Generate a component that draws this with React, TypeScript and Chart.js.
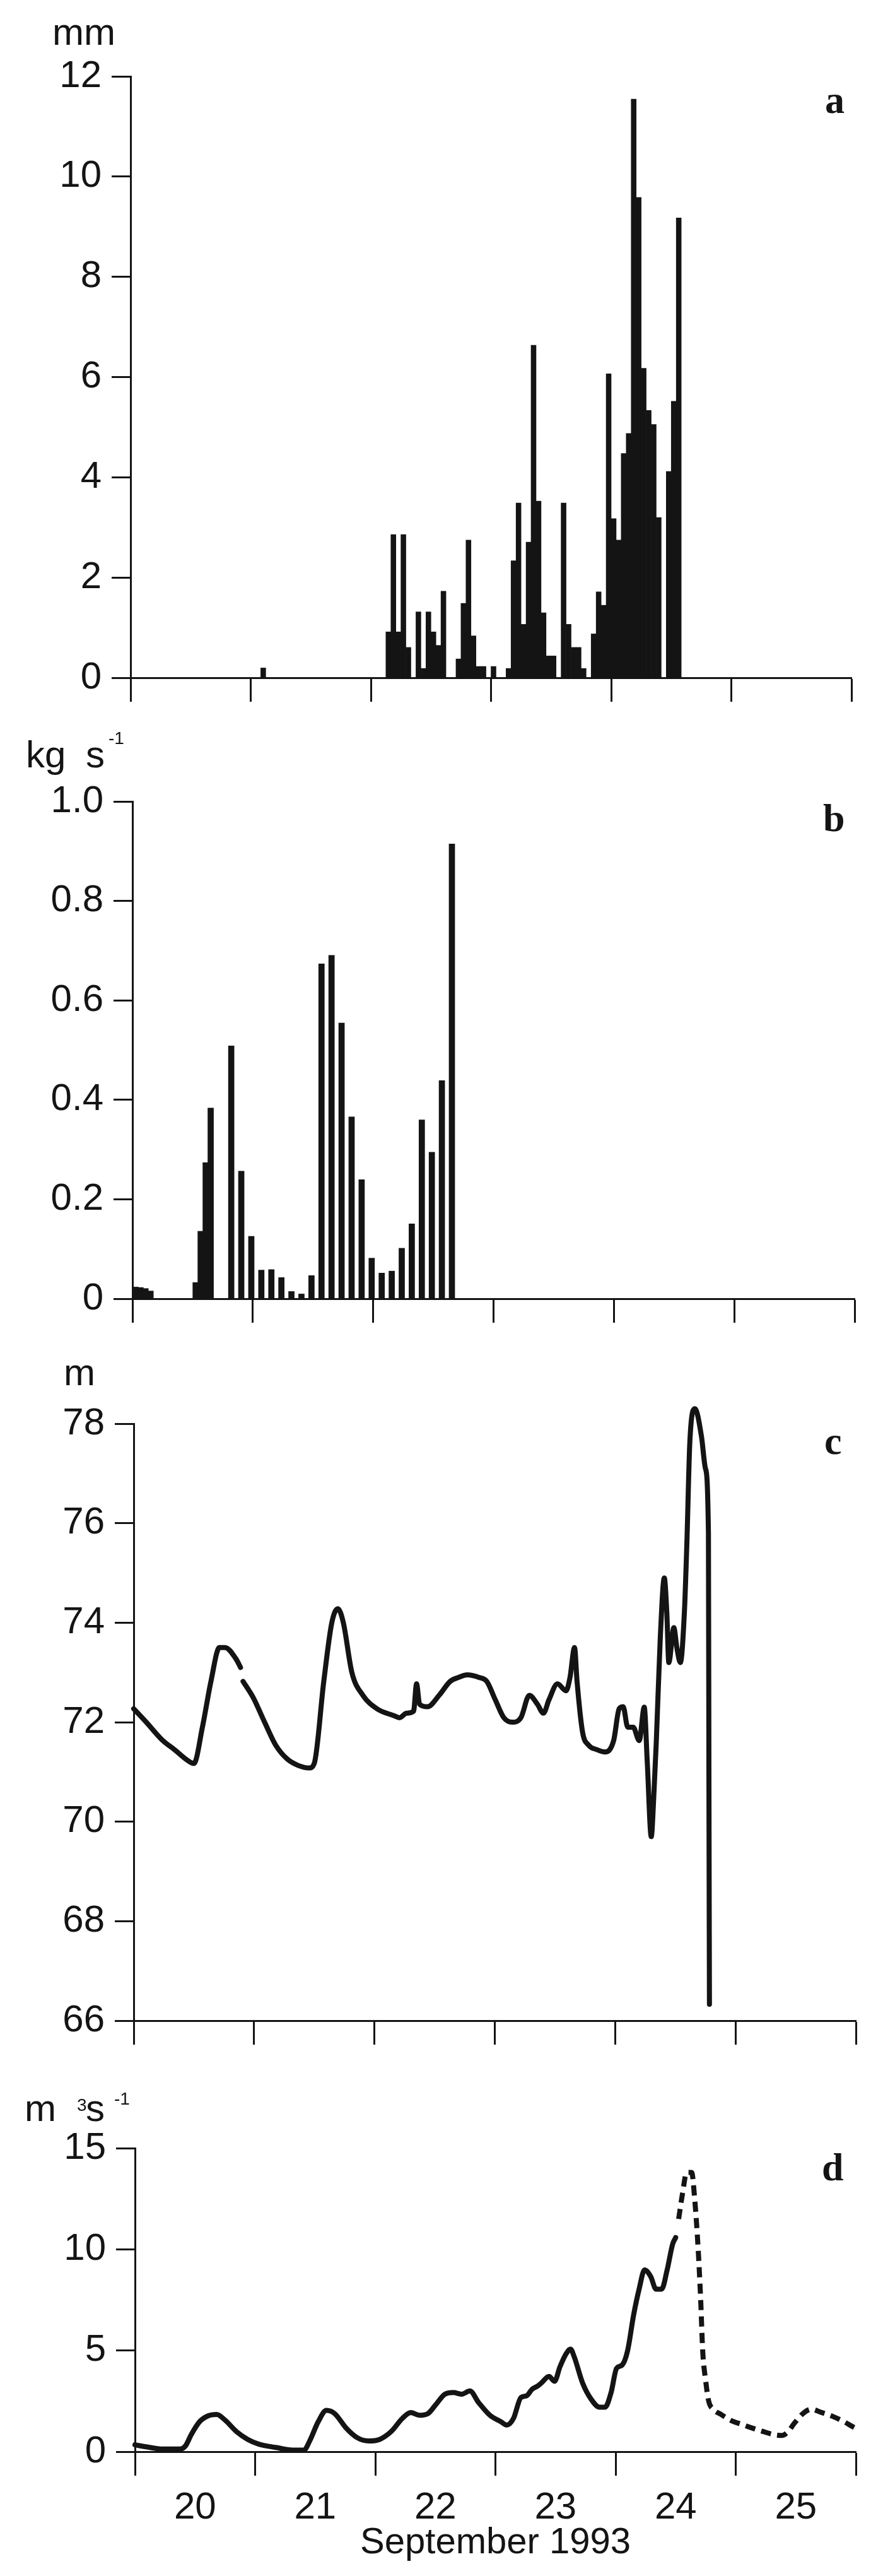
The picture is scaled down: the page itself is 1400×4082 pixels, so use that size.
import React, { useEffect, useRef } from 'react';
import { Chart, registerables } from 'chart.js';

Chart.register(...registerables);

const INK = '#141414';
const SANS = '"Liberation Sans", Arial, Helvetica, sans-serif';
const SERIF = '"Liberation Serif", "Times New Roman", serif';

// x axis: hours since 20 September 1993 00:00
const dayLabels = ['20', '21', '22', '23', '24', '25'];
const axisTitle = 'September 1993';

// (a) hourly precipitation, mm (hour index of the start of each hour; empty hours omitted)
const precipHour = [26, 51, 52, 53, 54, 55, 57, 58, 59, 60, 61, 62, 65, 66, 67, 68, 69, 70, 72, 75, 76, 77, 78, 79, 80, 81, 82, 83, 84, 86, 87, 88, 89, 90, 92, 93, 94, 95, 96, 97, 98, 99, 100, 101, 102, 103, 104, 105, 107, 108, 109];
const precipMm = [0.2, 0.92, 2.86, 0.92, 2.86, 0.61, 1.32, 0.19, 1.32, 0.92, 0.65, 1.73, 0.38, 1.49, 2.75, 0.84, 0.23, 0.23, 0.23, 0.19, 2.34, 3.49, 1.07, 2.71, 6.64, 3.53, 1.3, 0.44, 0.44, 3.49, 1.07, 0.61, 0.61, 0.19, 0.88, 1.72, 1.45, 6.07, 3.18, 2.75, 4.48, 4.88, 11.55, 9.59, 6.18, 5.34, 5.06, 3.2, 4.12, 5.52, 9.18];

// (b) sediment flux, kg s-1
const sedimentHour = [0.6, 1.6, 2.6, 3.6, 12.6, 13.6, 14.6, 15.6, 19.7, 21.7, 23.7, 25.7, 27.7, 29.7, 31.7, 33.7, 35.7, 37.7, 39.7, 41.7, 43.7, 45.7, 47.7, 49.7, 51.7, 53.7, 55.7, 57.7, 59.7, 61.7, 63.7];
const sedimentFlux = [0.024, 0.023, 0.021, 0.016, 0.033, 0.136, 0.274, 0.384, 0.509, 0.257, 0.126, 0.058, 0.059, 0.043, 0.015, 0.01, 0.047, 0.674, 0.691, 0.555, 0.366, 0.24, 0.082, 0.052, 0.056, 0.102, 0.151, 0.36, 0.295, 0.439, 0.915];

// (c) water level, m (null = gap in record)
const levelHour = [0, 2.5, 5.8, 8.1, 10.9, 12.0, 13.7, 15.4, 17.1, 18.2, 20.4, 21.3, 21.5, 21.8, 23.8, 26.1, 28.3, 30.6, 32.8, 35.0, 36.0, 37.9, 39.5, 40.7, 41.8, 43.5, 45.7, 48.5, 51.9, 53.0, 54.4, 55.8, 56.4, 57.0, 58.6, 60.9, 63.1, 64.8, 66.5, 68.8, 70.4, 72.1, 73.8, 75.5, 77.2, 78.9, 80.5, 81.7, 82.8, 84.5, 86.2, 87.0, 87.9, 88.4, 89.5, 90.7, 92.3, 94.0, 95.7, 96.8, 97.6, 98.5, 99.6, 100.8, 101.8, 102.4, 103.2, 103.7, 104.2, 105.0, 105.8, 106.3, 106.7, 107.7, 108.3, 109.0, 109.8, 110.3, 110.9, 111.9, 113.2, 114.0, 114.6, 114.7, 114.8];
const levelM = [72.27, 72.0, 71.63, 71.45, 71.22, 71.17, 71.9, 72.82, 73.5, 73.5, 73.27, 73.1, null, 72.82, 72.5, 72.0, 71.54, 71.26, 71.13, 71.08, 71.17, 72.82, 74.0, 74.28, 74.0, 73.0, 72.54, 72.27, 72.13, 72.09, 72.18, 72.22, 72.77, 72.36, 72.31, 72.54, 72.82, 72.9, 72.95, 72.9, 72.82, 72.45, 72.09, 72.0, 72.09, 72.54, 72.36, 72.18, 72.45, 72.77, 72.63, 72.9, 73.5, 72.82, 71.8, 71.54, 71.45, 71.4, 71.63, 72.27, 72.31, 71.9, 71.9, 71.63, 72.3, 71.2, 69.7, 70.5, 71.6, 73.7, 74.9, 74.2, 73.2, 73.9, 73.5, 73.2, 74.2, 75.6, 77.65, 78.3, 77.75, 77.1, 75.8, 70.7, 66.33];

// (d) discharge, m3 s-1 (measured, solid) and estimated (dashed)
const dischargeHour = [0, 2.25, 5.6, 9, 10.1, 11.25, 12.9, 14.6, 16.3, 18, 20.25, 22.5, 24.75, 28.1, 31.5, 33.75, 34.9, 36.6, 38.25, 39.9, 42.2, 44.4, 46.7, 48.9, 51.2, 53.4, 55.1, 56.8, 58.5, 60.2, 61.9, 63.6, 65.25, 66.9, 68.6, 70.9, 73.1, 74.25, 75.6, 77.1, 78.2, 79.3, 80.4, 81.2, 82.7, 83.8, 84.9, 86.1, 87.0, 87.75, 89.4, 91.1, 92.8, 93.9, 95.1, 96.2, 97.3, 98.4, 99.6, 100.7, 101.8, 103.0, 104.1, 105.2, 106.3, 107.4, 108.0];
const dischargeM3s = [0.34, 0.24, 0.13, 0.13, 0.29, 0.85, 1.48, 1.77, 1.84, 1.56, 1.0, 0.61, 0.37, 0.21, 0.08, 0.08, 0.53, 1.48, 2.04, 1.88, 1.16, 0.69, 0.53, 0.61, 1.0, 1.64, 1.93, 1.8, 1.88, 2.36, 2.84, 2.92, 2.84, 3.0, 2.44, 1.8, 1.48, 1.32, 1.64, 2.68, 2.76, 3.08, 3.24, 3.4, 3.72, 3.48, 4.2, 4.83, 5.07, 4.68, 3.4, 2.6, 2.2, 2.2, 2.92, 4.12, 4.28, 4.99, 6.75, 8.03, 8.98, 8.66, 8.03, 8.03, 8.98, 10.26, 10.58];
const dischargeEstHour = [108.6, 109.4, 110.2, 111.2, 111.8, 112.5, 113.0, 113.4, 114.0, 114.6, 115.5, 117, 119, 121.2, 123.5, 125.4, 127.5, 129.2, 130.5, 131.7, 133.5, 135.1, 137, 139.3, 141.5, 143.4, 144];
const dischargeEstM3s = [11.5, 12.8, 13.8, 13.8, 12.5, 10.0, 7.5, 5.0, 3.5, 2.5, 2.1, 1.85, 1.55, 1.35, 1.15, 1.0, 0.85, 0.8, 1.0, 1.4, 1.9, 2.1, 1.95, 1.75, 1.5, 1.23, 1.15];

const HOURS_PER_DAY = 24;
const X_MAX = dayLabels.length * HOURS_PER_DAY;
const xTickValues: number[] = [];
for (let d = 0; d <= dayLabels.length; d++) {
  xTickValues.push(d * HOURS_PER_DAY);
  if (d < dayLabels.length) xTickValues.push(d * HOURS_PER_DAY + HOURS_PER_DAY / 2);
}

const pts = (xs: number[], ys: (number | null)[], shift = 0) => xs.map((x, i) => ({ x: x + shift, y: ys[i] }));

type Panel = {
  top: number;
  height: number;
  plotLeft: number;
  plotRight: number;
  plotTop: number;
  plotBottom: number;
  xAxisHeight: number;
  yMin: number;
  yMax: number;
  yStep: number;
  yFmt: (v: number) => string;
  showDays: boolean;
  type: 'bar' | 'line';
  datasets: any[];
};

const LINE_W = 8;

const panels: Panel[] = [
  {
    top: 0, height: 1140, plotLeft: 207, plotRight: 1350, plotTop: 121, plotBottom: 1074, xAxisHeight: 60,
    yMin: 0, yMax: 12, yStep: 2, yFmt: (v) => String(v), showDays: false, type: 'bar',
    datasets: [{ data: pts(precipHour, precipMm, 0.5), backgroundColor: INK, borderWidth: 0, barPercentage: 1.08, categoryPercentage: 1 }],
  },
  {
    top: 1140, height: 1000, plotLeft: 210, plotRight: 1355, plotTop: 1270, plotBottom: 2058, xAxisHeight: 60,
    yMin: 0, yMax: 1, yStep: 0.2, yFmt: (v) => (v === 0 ? '0' : v.toFixed(1)), showDays: false, type: 'bar',
    datasets: [{ data: pts(sedimentHour, sedimentFlux), backgroundColor: INK, borderWidth: 0, barPercentage: 1.22, categoryPercentage: 1 }],
  },
  {
    top: 2140, height: 1130, plotLeft: 212, plotRight: 1357, plotTop: 2256, plotBottom: 3202, xAxisHeight: 60,
    yMin: 66, yMax: 78, yStep: 2, yFmt: (v) => String(v), showDays: false, type: 'line',
    datasets: [{ data: pts(levelHour, levelM), borderColor: INK, borderWidth: LINE_W, pointRadius: 0, cubicInterpolationMode: 'monotone', spanGaps: false, borderJoinStyle: 'round', borderCapStyle: 'round', fill: false, clip: false }],
  },
  {
    top: 3270, height: 812, plotLeft: 214, plotRight: 1357, plotTop: 3404, plotBottom: 3885, xAxisHeight: 180,
    yMin: 0, yMax: 15, yStep: 5, yFmt: (v) => String(v), showDays: true, type: 'line',
    datasets: [
      { data: pts(dischargeHour, dischargeM3s), borderColor: INK, borderWidth: LINE_W, pointRadius: 0, cubicInterpolationMode: 'monotone', borderJoinStyle: 'round', borderCapStyle: 'round', fill: false, clip: false },
      { data: pts(dischargeEstHour, dischargeEstM3s), borderColor: INK, borderWidth: LINE_W, pointRadius: 0, cubicInterpolationMode: 'monotone', borderDash: [16, 10], borderCapStyle: 'butt', fill: false, clip: false },
    ],
  },
];

function buildConfig(p: Panel): any {
  const padTop = p.plotTop - p.top;
  const padBottom = p.top + p.height - p.plotBottom - p.xAxisHeight;
  return {
    type: p.type,
    data: { datasets: p.datasets },
    options: {
      animation: false,
      responsive: true,
      maintainAspectRatio: false,
      events: [],
      layout: { padding: { left: 0, right: 1400 - p.plotRight, top: padTop, bottom: padBottom } },
      plugins: { legend: { display: false }, tooltip: { enabled: false }, title: { display: false } },
      scales: {
        x: {
          type: 'linear',
          min: 0,
          max: X_MAX,
          offset: false,
          afterBuildTicks: (s: any) => {
            s.ticks = xTickValues.map((v) => ({ value: v }));
          },
          afterFit: (s: any) => {
            s.height = p.xAxisHeight;
          },
          grid: {
            offset: false,
            drawOnChartArea: false,
            drawTicks: true,
            tickLength: 38,
            tickWidth: 3,
            tickColor: (ctx: any) => (ctx.tick && ctx.tick.value % HOURS_PER_DAY === 0 ? INK : 'rgba(0,0,0,0)'),
          },
          border: { display: true, color: INK, width: 3 },
          ticks: {
            autoSkip: false,
            maxRotation: 0,
            minRotation: 0,
            padding: 30,
            color: INK,
            font: { family: SANS, size: 60, lineHeight: 0.7 },
            callback: (v: number) => {
              if (!p.showDays) return '';
              if (v % HOURS_PER_DAY !== HOURS_PER_DAY / 2) return '';
              return dayLabels[(v - HOURS_PER_DAY / 2) / HOURS_PER_DAY];
            },
          },
          title: p.showDays
            ? { display: true, text: axisTitle, color: INK, font: { family: SANS, size: 58, lineHeight: 1.2 }, padding: { top: 0, bottom: 0 } }
            : { display: false },
        },
        y: {
          type: 'linear',
          min: p.yMin,
          max: p.yMax,
          afterFit: (s: any) => {
            s.width = p.plotLeft;
          },
          grid: { drawOnChartArea: false, drawTicks: true, tickLength: 30, tickWidth: 3, tickColor: INK },
          border: { display: true, color: INK, width: 3 },
          ticks: {
            stepSize: p.yStep,
            padding: 16,
            color: INK,
            font: { family: SANS, size: 60 },
            callback: (v: number) => p.yFmt(v),
          },
        },
      },
    },
  };
}

function PanelChart({ panel }: { panel: Panel }) {
  const ref = useRef<HTMLCanvasElement | null>(null);
  useEffect(() => {
    if (!ref.current) return;
    const chart = new Chart(ref.current, buildConfig(panel));
    return () => chart.destroy();
  }, [panel]);
  return (
    <div style={{ position: 'absolute', left: 0, top: panel.top, width: 1400, height: panel.height }}>
      <canvas ref={ref} />
    </div>
  );
}

type Label = { text: string; left: number; baseline: number; size: number; serif?: boolean };

const labels: Label[] = [
  { text: 'mm', left: 83, baseline: 72, size: 60 },
  { text: 'a', left: 1308, baseline: 179, size: 62, serif: true },
  { text: 'kg', left: 41, baseline: 1217, size: 60 },
  { text: 's', left: 136, baseline: 1217, size: 60 },
  { text: '-1', left: 172, baseline: 1180, size: 28 },
  { text: 'b', left: 1305, baseline: 1317, size: 62, serif: true },
  { text: 'm', left: 101, baseline: 2196, size: 60 },
  { text: 'c', left: 1307, baseline: 2304, size: 62, serif: true },
  { text: 'm', left: 39, baseline: 3362, size: 60 },
  { text: '3', left: 122, baseline: 3346, size: 28 },
  { text: 's', left: 136, baseline: 3362, size: 60 },
  { text: '-1', left: 181, baseline: 3336, size: 28 },
  { text: 'd', left: 1303, baseline: 3455, size: 62, serif: true },
];

function TextLabel({ l }: { l: Label }) {
  const k = l.serif ? 0.8375 : 0.8465;
  return (
    <div
      style={{
        position: 'absolute',
        left: l.left,
        top: l.baseline - l.size * k,
        fontFamily: l.serif ? SERIF : SANS,
        fontWeight: l.serif ? 'bold' : 'normal',
        fontSize: l.size,
        lineHeight: 1,
        color: INK,
        whiteSpace: 'nowrap',
      }}
    >
      {l.text}
    </div>
  );
}

export default function App() {
  return (
    <div style={{ position: 'absolute', left: 0, top: 0, width: 1400, height: 4082, background: '#ffffff', overflow: 'hidden' }}>
      {panels.map((p, i) => (
        <PanelChart key={i} panel={p} />
      ))}
      {labels.map((l, i) => (
        <TextLabel key={i} l={l} />
      ))}
    </div>
  );
}
